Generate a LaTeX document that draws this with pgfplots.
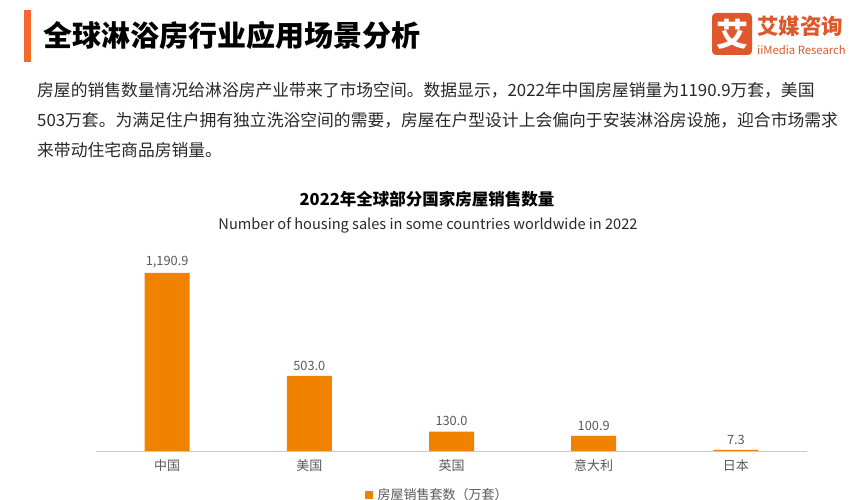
\documentclass[border=0pt]{standalone}
\usepackage{fontspec}
\setmainfont{Noto Sans CJK SC}
\usepackage{pgfplots}
\pgfplotsset{compat=1.18}

\definecolor{barorange}{RGB}{240,130,0}
\definecolor{logored}{RGB}{222,88,44}
\definecolor{hdrbar}{RGB}{244,106,46}
\definecolor{txt}{RGB}{40,40,40}
\definecolor{labgray}{RGB}{89,89,89}
\definecolor{axisgray}{RGB}{200,200,200}

\newcommand{\fs}[1]{\fontsize{#1bp}{#1bp}\selectfont}

\begin{document}
\begin{tikzpicture}[x=1bp,y=1bp]
\useasboundingbox (0,0) rectangle (853,500);

% header
\fill[hdrbar] (24,438) rectangle (31,490);
\node[anchor=west, inner sep=0, font=\fs{29}\bfseries, text=black] at (43,465) {全球淋浴房行业应用场景分析};

% logo
\fill[logored, rounded corners=4bp] (712,445) rectangle (752,487);
\node[font=\fs{32}\bfseries, text=white] at (732,466) {艾};
\node[anchor=west, inner sep=0, font=\fs{21.5}\bfseries, text=logored] at (757,474) {艾媒咨询};
\node[anchor=west, inner sep=0, font=\fs{11.3}, text=logored] at (757,450) {iiMedia Research};

% paragraph
\begin{scope}[every node/.style={anchor=west, inner sep=0, font=\fs{16.8}, text=txt}]
\node at (37,410) {房屋的销售数量情况给淋浴房产业带来了市场空间。数据显示，2022年中国房屋销量为1190.9万套，美国};
\node at (37,380) {503万套。为满足住户拥有独立洗浴空间的需要，房屋在户型设计上会偏向于安装淋浴房设施，迎合市场需求};
\node at (37,350) {来带动住宅商品房销量。};
\end{scope}

% chart titles
\node[font=\fs{16.5}\bfseries, text=black] at (427,301) {2022年全球部分国家房屋销售数量};
\node[font=\fs{14.6}, text=txt] at (428,275) {Number of housing sales in some countries worldwide in 2022};

\begin{axis}[
  at={(96bp,49bp)}, anchor=south west,
  scale only axis, width=711bp, height=200bp,
  xmin=-0.5, xmax=4.5, ymin=0, ymax=1338,
  clip=false,
  axis x line*=bottom, axis y line=none,
  x axis line style={draw=axisgray, line width=0.8bp, -},
  xtick=data, xticklabels={中国,美国,英国,意大利,日本},
  major tick length=0pt,
  xticklabel style={font=\fs{13}, text=labgray, yshift=-5bp},
  ybar, bar width=45bp,
  nodes near coords={\pgfmathprintnumber[fixed,fixed zerofill,precision=1,1000 sep={,},assume math mode=true]{\pgfplotspointmeta}},
  nodes near coords style={font=\fs{12.8}, text=labgray, yshift=2bp},
  legend style={at={(0.48,-0.22)}, anchor=center, draw=none, fill=none,
    font=\fs{13}, text=labgray},
]
\addplot[fill=barorange, draw=none,
  legend image code/.code={\fill[barorange] (0bp,-4.5bp) rectangle (7.5bp,3.5bp);}]
  coordinates {(0,1190.9) (1,503.0) (2,130.0) (3,100.9) (4,7.3)};
\addlegendentry{\hspace{3bp}房屋销售套数（万套）}
\end{axis}
\end{tikzpicture}
\end{document}
